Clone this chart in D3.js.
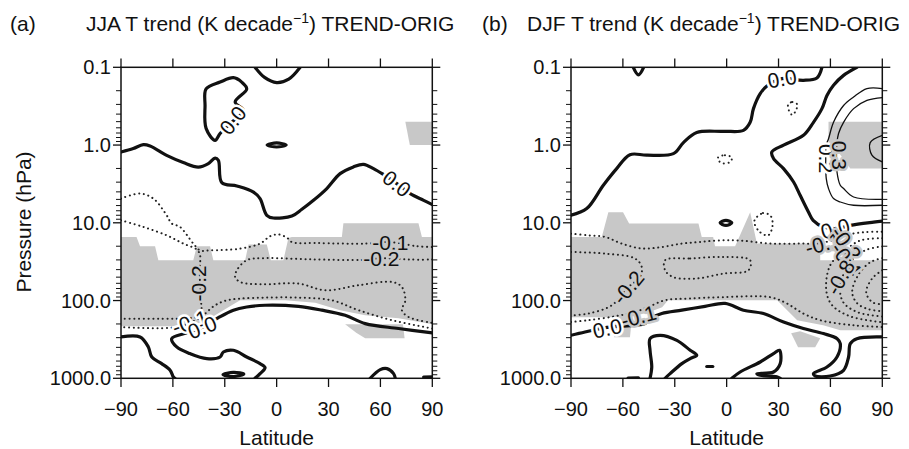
<!DOCTYPE html>
<html>
<head>
<meta charset="utf-8">
<script src="https://cdn.jsdelivr.net/npm/d3@7"></script>
<style>
body { margin: 0; background: #fff; }
text { font-family: "Liberation Sans", Arial, Helvetica, sans-serif; fill: #111; }
</style>
</head>
<body>
<svg id="chart" width="909" height="449"></svg>
<script>
// ********************** DATA **********************************************
var latTicks = [-90, -60, -30, 0, 30, 60, 90];
var presTicks = [0.1, 1, 10, 100, 1000];
var presLabels = ["0.1", "1.0", "10.0", "100.0", "1000.0"];

// JJA: zero contours (thick), [lat, hPa]
var jjaZero = [
  [[-12.5,0.1],[-7,0.135],[0,0.157],[7,0.142],[13.6,0.1]],
  [[-90,1.23],[-82.9,1.11],[-77.1,0.99],[-73.2,1.03],[-63.6,1.36],[-54,1.68],[-45.3,1.92],[-39.5,1.73],[-35.6,1.47],[-33.7,1.57],[-31.7,3.04],[-23,3.36],[-13.4,4.02],[-9.6,4.89],[-5.7,8.0],[-1.9,8.67],[8.8,8.17],[14.6,6.7],[21.3,5.14],[29,3.63],[36.7,2.33],[44.4,1.91],[50.2,1.77],[56,2.01],[61.8,2.4],[69.5,3.13],[77.2,4.21],[85,5.14],[90,5.83]],
  [[90,261],[70.5,229],[51.2,198],[39.6,155],[26.1,133],[12.6,119],[-6.7,115],[-17.3,121],[-25,133],[-33.7,166],[-43,221],[-52,260],[-60.7,309],[-57.8,395],[-50.1,481],[-40.4,558],[-32.7,532],[-30.8,459],[-25,436],[-17.3,532],[-9.6,647],[-6.7,728],[-9.6,871],[-12.5,1000]],
  [[-90,294],[-79,294],[-74.2,395],[-72.2,532],[-66.5,647],[-61.6,789],[-59.7,962],[-58.8,1000]],
  [[54.1,1000],[59.9,773],[63.8,750],[67.6,871],[68.6,1000]],
  [[85,965],[90,955]]
];
var jjaZeroClosed = [
  [[-35.6,0.87],[-40.8,0.61],[-41.4,0.31],[-40.8,0.19],[-32.7,0.155],[-25,0.136],[-20.2,0.155],[-17.3,0.19],[-24,0.28],[-19.2,0.36],[-26,0.51],[-32.7,0.71]],
  [[-5.5,1.0],[0,0.94],[5.5,1.0],[0,1.06]],
  [[-31,900],[-25,840],[-19,880],[-25,950]]
];
// JJA: negative contours (dotted)
var jjaNeg = [
  [[-90,4.88],[-79,4.21],[-71.3,4.88],[-63.6,8.0],[-60.7,10.2],[-55.9,11.3],[-48.2,18.5],[-44.3,22.6],[-38.5,22.6],[-21.1,21.5],[-9.6,18.5],[-3.8,14.9],[1,14.1],[5.9,15.5],[8.8,17.7],[23.3,18.2],[52.2,18.5],[65.7,17.7],[81.1,20],[90,20.5]],
  [[-90,9.3],[-77.1,11.3],[-63.6,14.5],[-54,18.5],[-46.2,22.1],[-44.3,26],[-44.5,40],[-44.2,70],[-43.5,120],[-43.3,155],[-50,168],[-57.8,171],[-90,171]],
  [[90,29.7],[77.2,29.7],[60.5,28.6],[49.3,30],[20,29.5],[-6.7,28.5],[-17.3,30.3],[-23,40.8],[-24,49.8],[-21.1,57.7],[-9.6,61.8],[12.6,60.5],[28.1,73.8],[47.3,63.6],[66.7,57.7],[72.4,66.9],[74.4,99.3],[72.4,133],[76.3,163],[90,194]],
  [[90,229],[66.7,179],[47.3,133],[31.9,99.3],[12.6,91.6],[-6.7,91.6],[-21.1,94.4],[-28.8,99.3],[-35.6,115],[-45,170],[-57.8,219],[-90,219]]
];
var jjaShade = [
  [[-90,15.2],[-81,15.2],[-79,20.1],[-70.3,20.1],[-68.4,30.3],[-48.2,30.3],[-46.2,20.1],[-38.5,20.1],[-36.6,30.3],[-18.2,30.3],[-16.3,19],[-5.7,19],[-3.4,30.3],[3.9,30.3],[6.8,15.7],[8.8,15.2],[37.7,15.2],[38.6,10.1],[82,10.1],[84,15.2],[90,15.2],
   [90,202],[70.5,169],[51.2,155],[36.7,133],[22.3,107],[4.9,99],[-7.6,99],[-21.1,99],[-26,115],[-30.8,133],[-35.6,155],[-45,214],[-90,214]],
  [[39.6,202],[73,202],[74,306],[51.2,306],[46,260]],
  [[74.4,0.5],[90,0.5],[90,1.0],[77,1.0]]
];
// label: [lat, hPa, text, rotation, halo]
var jjaLabels = [
  [-25.4,0.48,"0.0",-52,"w"],
  [69.5,3.13,"0.0",38,"w"],
  [65.7,17.7,"-0.1",0,"g"],
  [60.5,28.6,"-0.2",0,"g"],
  [-45.4,60,"-0.2",-90,"g"],
  [-50.1,190,"-0.1",-18,"w"],
  [-43.1,221,"0.0",-22,"w"]
];

// DJF
var djfZero = [
  [[-54,0.1],[-51,0.125],[-48,0.1]],
  [[-90,8.0],[-80.9,6.57],[-71.3,3.29],[-63.6,2.01],[-55.9,1.33],[-46.2,1.35],[-30.8,1.29],[-25,0.93],[-17.3,0.69],[-1.9,0.666],[9.7,0.647],[13.6,0.51],[15.5,0.34],[19.4,0.218],[23.3,0.174],[32,0.14],[44.4,0.147],[52.2,0.137],[55.1,0.1]],
  [[75.3,0.1],[67.6,0.127],[61.8,0.17],[58,0.23],[55.1,0.34],[50.2,0.51],[44.4,0.75],[32.9,1.0],[26.1,1.23],[27.1,1.49],[32.9,2.01],[38.7,2.99],[42.5,4.43],[47.3,7.26],[50,9.3],[56,11.3],[64,11.8],[71.5,10.8],[85,9.8],[90,9.5]],
  [[-90,280],[-81.9,254],[-69.2,221],[-53,208],[-47.2,198],[-44.3,171],[-37.5,147],[-25.9,133],[-12.5,119],[-0.9,109],[9.7,133],[21.3,147],[32.9,189],[44.4,229],[56,266],[63.9,309],[65.7,358],[63.8,532],[58,717],[50.2,871],[51.2,934],[59.9,934],[67.6,789],[70.5,532],[71.5,358],[75.3,309],[90,294]],
  [[-44.3,1000],[-43.3,717],[-44.3,436],[-44.3,309],[-38.5,280],[-28.8,325],[-21.1,436],[-17.3,506],[-21.1,558],[-25.9,647],[-32.7,871],[-35.6,1000]],
  [[3,1000],[7.8,830],[19.4,617],[27.1,481],[30.5,436],[31,647],[27.1,830],[17.5,871],[19.4,915],[29,957],[31,1000]],
  [[-57,995],[-51,985]],
  [[-11.5,705],[-8,705]]
];
var djfZeroClosed = [
  [[-3.8,10],[-0.4,9.3],[3,10],[-0.4,10.8]]
];
var djfPos = [
  [[90,0.188],[81.1,0.188],[73.4,0.241],[67.6,0.31],[61.8,0.51],[58.9,0.83],[57.6,1.0],[57.3,1.6],[57.6,2.7],[58.9,3.63],[61.8,4.88],[65.7,5.4],[73.4,5.95],[90,5.95]],
  [[90,0.245],[81.1,0.266],[73.4,0.34],[67.6,0.51],[64.7,0.71],[63.8,0.93],[63.5,1.5],[63.8,2.22],[65.7,3.29],[67.6,3.63],[73.4,4.66],[90,4.99]],
  [[90,0.75],[83,0.93],[84,1.35],[90,1.65]]
];
var djfNeg = [
  [[-90,13.8],[-80,14.5],[-70.3,15.2],[-60.7,18.5],[-49.1,21.4],[-37.5,20.5],[-25.9,18.5],[-16.3,17.7],[-4.8,16.9],[7.8,16.9],[25.2,18.5],[42.5,18.5],[54,18.3],[62,16.5],[70,14.2],[80,13.2],[90,13.0]],
  [[-90,189],[-80,179],[-65,160],[-53,140],[-45.3,121],[-35.6,99],[-22.1,94.4],[-2.8,90.5],[25.2,90.5],[34.8,109],[44.4,147],[54.1,179],[73.4,208],[90,219]],
  [[-90,23.7],[-70.3,24.9],[-53,28.8],[-49.1,37],[-50.1,49.8],[-57,67.6],[-66.4,115],[-80,147],[-90,155]],
  [[90,15.8],[77.2,16.9],[68.6,22.6],[59.9,35.1],[57.6,73.8],[61,115],[71.5,160],[90,190]],
  [[90,20.1],[80.1,22.6],[71.5,32.2],[65.7,63.6],[67.4,105],[76,142],[90,160]],
  [[90,28.5],[83,32.2],[76,47.2],[72.6,78.3],[75.4,108],[81.9,129],[90,137]],
  [[90,40.8],[84.2,51.8],[80.7,78.3],[84.2,105],[90,112]]
];
var djfNegClosed = [
  [[-35.6,30.3],[-21.1,28.8],[-1.9,27.5],[13.6,30.3],[12.6,40.8],[-1.9,45],[-17.3,52],[-30.8,50],[-35.6,40.8]],
  [[35.6,0.3],[38,0.28],[40.8,0.3],[40,0.36],[38,0.41],[36,0.36]],
  [[-5,1.45],[-1,1.35],[3,1.45],[2,1.65],[-2,1.72],[-4.5,1.6]],
  [[16,9.5],[21,7.5],[25.5,8.2],[26.5,11],[24,14.5],[19,13]]
];
var djfShade = [
  [[-90,15.2],[-72.2,15.2],[-68.4,7.33],[-59.9,7.33],[-56.4,10.2],[-16.3,10.2],[-14.4,15.2],[-7.8,15.2],[-6.7,20.1],[4.9,20.1],[13.6,7.3],[17.5,18.5],[54.1,18.5],[54.1,30.3],[90,30.3],
   [90,241],[65.7,241],[55.8,208],[40.8,179],[29.2,99],[-2,99],[-33.9,99],[-37.3,122],[-45.4,142],[-54.7,160],[-55.9,297],[-65.1,297],[-66.3,164],[-90,164]],
  [[37.3,264],[42.5,249],[54.1,306],[51.2,400],[41.3,400]],
  [[58.9,0.5],[90,0.5],[90,2.0],[71.5,2.0],[63.8,1.17],[58.9,1.0]]
];
var djfLabels = [
  [32,0.14,"0.0",-10,"w"],
  [57.6,1.49,"0.2",90,"w"],
  [65.1,1.36,"0.3",90,"g"],
  [62.8,11.8,"0.0",-15,"w"],
  [55.8,18.5,"-0.1",-15,"g"],
  [69.1,18.4,"-0.2",55,"g"],
  [69.1,29.4,"-0.4",55,"g"],
  [65.7,50.2,"-0.8",-60,"g"],
  [-57,67.6,"-0.2",-50,"g"],
  [-51,160,"-0.1",-15,"g"],
  [-69,228,"0.0",-12,"w"]
];

// ********************** DRAW **********************************************
var svg = d3.select("#chart");
var grayFill = "#c8c8c8";

function drawPanel(p) {
  var x = d3.scaleLinear().domain([-90, 90]).range([p.left, p.right]);
  var y = d3.scaleLog().domain([0.1, 1000]).range([67.3, 378.3]);

  var g = svg.append("g");
  var clipId = "clip-" + p.id;
  svg.append("clipPath").attr("id", clipId)
    .append("rect")
    .attr("x", p.left).attr("y", 67.3)
    .attr("width", p.right - p.left).attr("height", 311);

  var plot = g.append("g").attr("clip-path", "url(#" + clipId + ")");

  var polyLine = d3.line().x(d => x(d[0])).y(d => y(d[1])).curve(d3.curveLinearClosed);
  var openLine = d3.line().x(d => x(d[0])).y(d => y(d[1])).curve(d3.curveCatmullRom.alpha(0.5));
  var closedLine = d3.line().x(d => x(d[0])).y(d => y(d[1])).curve(d3.curveCatmullRomClosed.alpha(0.5));

  // shading
  plot.selectAll(".shade").data(p.shade).enter().append("path")
    .attr("d", polyLine)
    .attr("fill", grayFill)
    .attr("stroke", "none");

  // dotted negatives
  function dotted(sel) {
    sel.attr("fill", "none").attr("stroke", "#222")
      .attr("stroke-width", 2).attr("stroke-linecap", "round")
      .attr("stroke-dasharray", "0.1 4.6");
  }
  plot.selectAll(".neg").data(p.neg).enter().append("path")
    .attr("d", openLine).call(dotted);
  plot.selectAll(".negc").data(p.negClosed || []).enter().append("path")
    .attr("d", closedLine).call(dotted);

  // thin positives
  plot.selectAll(".pos").data(p.pos || []).enter().append("path")
    .attr("d", openLine)
    .attr("fill", "none").attr("stroke", "#111").attr("stroke-width", 1.3);

  // thick zero
  plot.selectAll(".zero").data(p.zero).enter().append("path")
    .attr("d", openLine)
    .attr("fill", "none").attr("stroke", "#111").attr("stroke-width", 3.2)
    .attr("stroke-linejoin", "round").attr("stroke-linecap", "round");
  plot.selectAll(".zeroc").data(p.zeroClosed).enter().append("path")
    .attr("d", closedLine)
    .attr("fill", "none").attr("stroke", "#111").attr("stroke-width", 3.2)
    .attr("stroke-linejoin", "round");

  // contour labels
  plot.selectAll(".clab").data(p.labels).enter().append("text")
    .attr("transform", d => "translate(" + x(d[0]) + "," + y(d[1]) + ") rotate(" + d[3] + ")")
    .attr("text-anchor", "middle")
    .attr("dominant-baseline", "central")
    .style("font-size", "21px")
    .style("paint-order", "stroke")
    .style("stroke", d => d[4] == "g" ? grayFill : "#fff")
    .style("stroke-width", "5px")
    .style("stroke-linejoin", "round")
    .text(d => d[2]);

  // frame
  g.append("rect")
    .attr("x", p.left).attr("y", 67.3)
    .attr("width", p.right - p.left).attr("height", 311)
    .attr("fill", "none").attr("stroke", "#111").attr("stroke-width", 1.5);

  // x ticks top and bottom (outward)
  latTicks.forEach(function(t) {
    g.append("line").attr("x1", x(t)).attr("x2", x(t)).attr("y1", 378.3).attr("y2", 387)
      .attr("stroke", "#111").attr("stroke-width", 1.3);
    g.append("line").attr("x1", x(t)).attr("x2", x(t)).attr("y1", 67.3).attr("y2", 58.5)
      .attr("stroke", "#111").attr("stroke-width", 1.3);
    g.append("text").attr("x", x(t)).attr("y", 416)
      .attr("text-anchor", "middle").style("font-size", "20px")
      .text(t < 0 ? "\u2212" + Math.abs(t) : t);
  });

  // y ticks left and right, log minor ticks
  var minor = [];
  for (var dec = 0.1; dec < 1000; dec *= 10) {
    for (var k = 2; k <= 9; k++) minor.push(dec * k);
  }
  minor.forEach(function(v) {
    g.append("line").attr("x1", p.left).attr("x2", p.left - 5).attr("y1", y(v)).attr("y2", y(v))
      .attr("stroke", "#111").attr("stroke-width", 1);
    g.append("line").attr("x1", p.right).attr("x2", p.right + 5).attr("y1", y(v)).attr("y2", y(v))
      .attr("stroke", "#111").attr("stroke-width", 1);
  });
  presTicks.forEach(function(v, i) {
    g.append("line").attr("x1", p.left).attr("x2", p.left - 8).attr("y1", y(v)).attr("y2", y(v))
      .attr("stroke", "#111").attr("stroke-width", 1.3);
    g.append("line").attr("x1", p.right).attr("x2", p.right + 8).attr("y1", y(v)).attr("y2", y(v))
      .attr("stroke", "#111").attr("stroke-width", 1.3);
    g.append("text").attr("x", p.left - 10).attr("y", y(v))
      .attr("text-anchor", "end").attr("dominant-baseline", "central")
      .style("font-size", "20px")
      .text(presLabels[i]);
  });

  // axis title
  g.append("text").attr("x", (p.left + p.right) / 2).attr("y", 445)
    .attr("text-anchor", "middle").style("font-size", "21px").text("Latitude");

  // panel title
  g.append("text").attr("x", p.tagX).attr("y", 31).style("font-size", "21px").text(p.tag);
  var title = g.append("text").attr("x", p.titleX).attr("y", 31).style("font-size", "21px");
  title.append("tspan").text(p.season + " T trend (K decade");
  title.append("tspan").attr("dy", -8).style("font-size", "14px").text("\u22121");
  title.append("tspan").attr("dy", 8).text(") TREND-ORIG");
}

drawPanel({ id: "a", left: 121, right: 432.3, tag: "(a)", tagX: 10, titleX: 86, season: "JJA",
  zero: jjaZero, zeroClosed: jjaZeroClosed, neg: jjaNeg, shade: jjaShade, labels: jjaLabels });
drawPanel({ id: "b", left: 571, right: 882.3, tag: "(b)", tagX: 482, titleX: 527, season: "DJF",
  zero: djfZero, zeroClosed: djfZeroClosed, neg: djfNeg, negClosed: djfNegClosed, pos: djfPos,
  shade: djfShade, labels: djfLabels });

// y axis title
svg.append("text")
  .attr("transform", "translate(31,222) rotate(-90)")
  .attr("text-anchor", "middle")
  .style("font-size", "21px")
  .text("Pressure (hPa)");
</script>
</body>
</html>
